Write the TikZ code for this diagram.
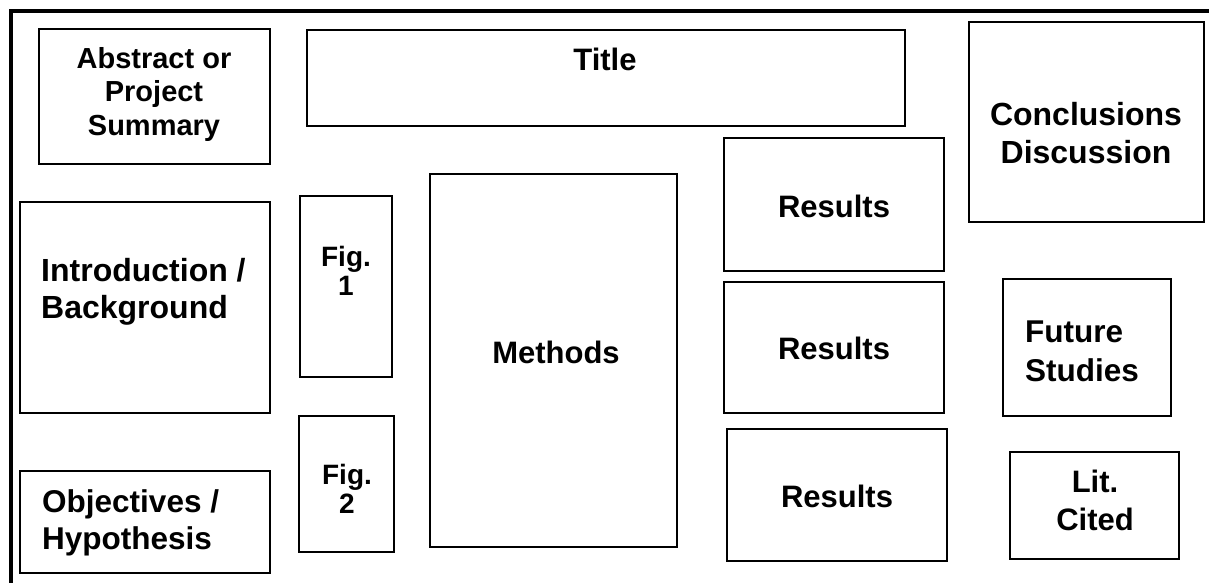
\documentclass[tikz,border=0pt]{standalone}
\usepackage{fontspec}
\setmainfont{Liberation Sans}
\usetikzlibrary{fit, positioning}

\tikzset{
  frame/.style={line width=4pt, line join=miter},
  panel/.style={draw, line width=1.8pt, inner sep=0pt},
  heading/.style={inner sep=0pt, align=center, font=\bfseries\fontsize{31}{37}\selectfont},
  lefthead/.style={heading, align=left},
}

\begin{document}
\begin{tikzpicture}[x=1pt, y=-1pt]
\useasboundingbox (0,0) rectangle (1209,583);

% poster sheet, only top and left edges fall inside the page
\draw[frame] (11,600) -- (11,11) -- (1230,11);

% section frames: name/left/top/right/bottom
\foreach \name/\xa/\ya/\xb/\yb in {
    abstract/39/29/270/164, title/307/30/905/126, concl/969/22/1204/222,
    intro/20/202/270/413, figA/300/196/392/377, figB/299/416/394/552,
    methods/430/174/677/547,
    resultsA/724/138/944/271, resultsB/724/282/944/413, resultsC/727/429/947/561,
    future/1003/279/1171/416, litcited/1010/452/1179/559,
    objectives/20/471/270/573}
  \node[panel, fit={(\xa,\ya) (\xb,\yb)}] (\name) {};

% headings
\node[heading, anchor=base] (title-txt) at (605,71) {Title};
\node[heading, anchor=north, font=\bfseries\fontsize{29}{33.5}\selectfont] (abstract-txt) at (154,47) {Abstract or\\Project\\Summary};
\node[heading, anchor=north, font=\bfseries\fontsize{32}{38}\selectfont] (concl-txt) at (1086,102) {Conclusions\\Discussion};
\node[lefthead, anchor=north west, font=\bfseries\fontsize{32}{37}\selectfont] (intro-txt) at (41,258) {Introduction /\\Background};
\node[lefthead, anchor=north west, font=\bfseries\fontsize{31.5}{37}\selectfont] (objectives-txt) at (42,489) {Objectives /\\Hypothesis};
\node[heading, anchor=north, font=\bfseries\fontsize{28}{29}\selectfont] (figA-txt) at (346,246) {Fig.\\1};
\node[heading, anchor=north, font=\bfseries\fontsize{28}{29}\selectfont] (figB-txt) at (347,464) {Fig.\\2};
\node[heading, anchor=base] (methods-txt) at (556,363) {Methods};
\node[heading, anchor=base] (resultsA-txt) at (834,217) {Results};
\node[heading, anchor=base] (resultsB-txt) at (834,359) {Results};
\node[heading, anchor=base] (resultsC-txt) at (837,507) {Results};
\node[lefthead, anchor=north west, font=\bfseries\fontsize{31.5}{39}\selectfont] (future-txt) at (1025,321) {Future\\Studies};
\node[heading, anchor=north, font=\bfseries\fontsize{31}{38}\selectfont] (litcited-txt) at (1095,470) {Lit.\\Cited};
\end{tikzpicture}
\end{document}
